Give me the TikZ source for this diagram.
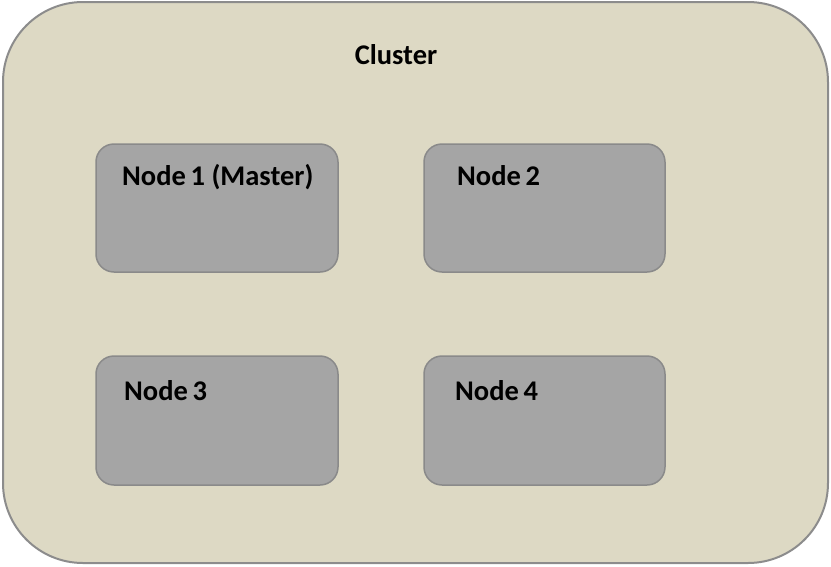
\documentclass[tikz,border=0pt]{standalone}
\usepackage{fontspec}
\setmainfont{Carlito}
\definecolor{clusterfill}{HTML}{DDD9C4}
\definecolor{clusterline}{HTML}{8C8C8C}
\definecolor{nodefill}{HTML}{A5A5A5}
\definecolor{nodeline}{HTML}{8A8A8A}
\tikzset{
  clusterbox/.style={draw=clusterline, line width=2pt, fill=clusterfill, rounded corners=80pt},
  nodebox/.style={draw=nodeline, line width=1.5pt, fill=nodefill, rounded corners=18pt},
  lbl/.style={font=\bfseries\fontsize{28.5}{32}\selectfont, text=black, anchor=west, inner sep=0pt}
}
\begin{document}
\begin{tikzpicture}[x=1pt,y=-1pt]
\useasboundingbox (0,0) rectangle (831,566);
\draw[clusterbox] (3,2) rectangle (828,563);
\node[font=\bfseries\fontsize{28.5}{32}\selectfont, inner sep=0pt] (cl) at (396,55) {Cluster};
\draw[nodebox] (96,144) rectangle (338,272);
\draw[nodebox] (424,144) rectangle (665,272);
\draw[nodebox] (96,356) rectangle (338,485);
\draw[nodebox] (424,356) rectangle (665,485);
\node[lbl] (n1) at (122,177) {Node\,1 (Master)};
\node[lbl] (n2) at (457,176) {Node\,2};
\node[lbl] (n3) at (124,391) {Node\,3};
\node[lbl] (n4) at (455,391) {Node\,4};
\end{tikzpicture}
\end{document}
